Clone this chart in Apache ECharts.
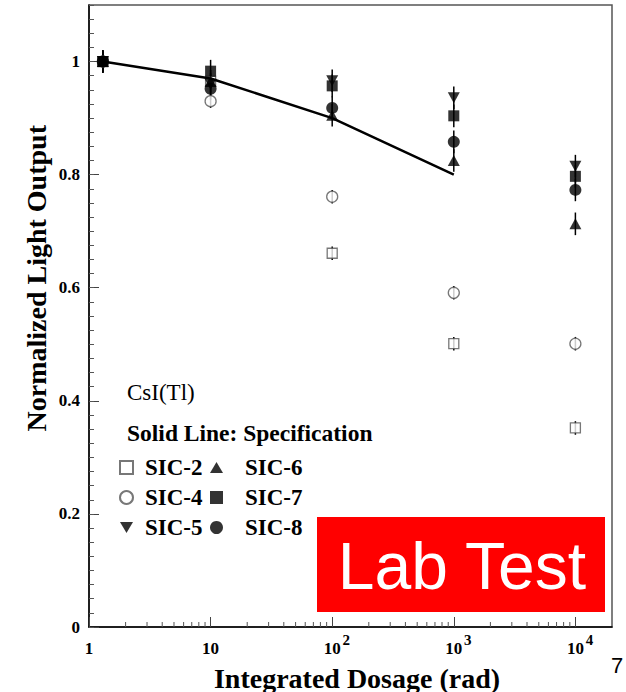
<!DOCTYPE html>
<html>
<head>
<meta charset="utf-8">
<script src="https://cdn.jsdelivr.net/npm/echarts@6/dist/echarts.min.js"></script>
<style>
  html, body { margin: 0; padding: 0; background: #fff; }
  #chart { width: 626px; height: 692px; }
</style>
</head>
<body>
<div id="chart"></div>
<script>
// dose points (rad)
var doses = [1.3, 10, 100, 1000, 10000];

// normalized light output per crystal
var sic2 = [1.0, 0.965, 0.661, 0.501, 0.352];
var sic4 = [1.0, 0.930, 0.761, 0.591, 0.501];
var sic5 = [1.0, 0.960, 0.966, 0.936, 0.815];
var sic6 = [1.0, 0.965, 0.905, 0.825, 0.713];
var sic7 = [1.0, 0.983, 0.957, 0.904, 0.797];
var sic8 = [1.0, 0.952, 0.918, 0.858, 0.773];

// error sizes
var errFilled = 0.02;
var errOpen = 0.012;

// specification line
var specDoses = [1.3, 10, 100, 1000];
var specValues = [1.0, 0.97, 0.90, 0.80];

// tick labels for the log axis (by exponent): base part and superscript part
var xTickBase = ['1', '10', '10', '10', '10'];
var xTickExp = ['', '', '2', '3', '4'];
var yTickStep = 0.2;

var serif = '"Liberation Serif", "DejaVu Serif", serif';
var sans = '"Liberation Sans", Arial, sans-serif';

var myChart = echarts.init(document.getElementById('chart'), null, {renderer: 'svg'});

function pairs(xs, ys) {
    return xs.map(function (x, i) { return [x, ys[i]]; });
}

function expOf(v) {
    return Math.round(Math.log10(v));
}

// minor ticks 2..9 for every decade
var xMinor = [];
[1, 10, 100, 1000, 10000].forEach(function (d) {
    for (var m = 2; m <= 9; m++) {
        if (d * m < 20000) xMinor.push([d * m, 0]);
    }
});

// error bars: [x, y, err]
var errData = [];
[[sic2, errOpen], [sic4, errOpen], [sic5, errFilled], [sic6, errFilled], [sic7, errFilled], [sic8, errFilled]].forEach(function (s) {
    s[0].forEach(function (v, i) { errData.push([doses[i], v, s[1]]); });
});

var squareSym = 'path://M0,0L10,0L10,10L0,10Z';
var upTri = 'path://M10,0L20,17L0,17Z';
var downTri = 'path://M0,0L20,0L10,17Z';

function openStyle() {
    return { color: '#fff', borderColor: '#555', borderWidth: 1.3 };
}

function legendText(gap) {
    return { fontFamily: serif, fontWeight: 'bold', fontSize: 23, color: '#000', lineHeight: 22, padding: [0, 0, 0, gap] };
}

var option = {
    animation: false,
    backgroundColor: '#fff',
    grid: {
        left: 89,
        right: 14,
        top: 5,
        bottom: 65,
        show: true,
        borderColor: '#555',
        borderWidth: 1.5,
        backgroundColor: 'transparent'
    },
    xAxis: [{
        type: 'log',
        logBase: 10,
        min: 1,
        max: 20000,
        splitNumber: 4,
        axisLine: { lineStyle: { color: '#000', width: 1.5 } },
        axisTick: { inside: true, length: 10, lineStyle: { color: '#444' } },
        splitLine: { show: false },
        axisLabel: {
            showMaxLabel: false,
            margin: 13,
            color: '#000',
            fontFamily: serif,
            fontWeight: 'bold',
            fontSize: 17,
            formatter: function (v) { return xTickBase[expOf(v)] || ''; }
        }
    }, {
        // superscripts of the decade labels
        type: 'log',
        logBase: 10,
        min: 1,
        max: 20000,
        splitNumber: 4,
        position: 'bottom',
        axisLine: { show: false },
        axisTick: { show: false },
        splitLine: { show: false },
        axisLabel: {
            showMaxLabel: false,
            margin: 5,
            color: '#000',
            fontFamily: serif,
            fontWeight: 'bold',
            fontSize: 15,
            padding: [0, 0, 0, 28],
            formatter: function (v) { return xTickExp[expOf(v)] || ''; }
        }
    }],
    yAxis: [{
        type: 'value',
        min: 0,
        max: 1.1,
        interval: yTickStep,
        axisLine: { show: true, lineStyle: { color: '#000', width: 1.5 } },
        axisTick: { inside: true, length: 10, lineStyle: { color: '#444' } },
        splitLine: { show: false },
        axisLabel: {
            showMaxLabel: false,
            margin: 9,
            color: '#000',
            fontFamily: serif,
            fontWeight: 'bold',
            fontSize: 17
        }
    }, {
        type: 'value',
        position: 'left',
        min: 0,
        max: 1.1,
        interval: 0.025,
        axisLine: { show: false },
        axisTick: { show: true, inside: true, length: 5, lineStyle: { color: '#555' } },
        axisLabel: { show: false },
        splitLine: { show: false }
    }],
    legend: [{
        left: 114,
        top: 451,
        orient: 'vertical',
        selectedMode: false,
        itemWidth: 13,
        itemHeight: 13,
        itemGap: 7,
        textStyle: legendText(7),
        data: ['SIC-2', 'SIC-4', 'SIC-5']
    }, {
        left: 205,
        top: 451,
        orient: 'vertical',
        selectedMode: false,
        itemWidth: 13,
        itemHeight: 13,
        itemGap: 7,
        textStyle: legendText(17),
        data: ['SIC-6', 'SIC-7', 'SIC-8']
    }],
    graphic: [
        { type: 'text', left: 127, top: 381, style: { text: 'CsI(Tl)', font: '23px ' + serif, fill: '#000' } },
        { type: 'text', left: 127, top: 421, style: { text: 'Solid Line: Specification', font: 'bold 23.5px ' + serif, fill: '#000' } },
        { type: 'text', x: 36, y: 125, rotation: Math.PI / 2,
          style: { text: 'Normalized Light Output', font: 'bold 28px ' + serif, fill: '#000', align: 'right', verticalAlign: 'middle' } },
        { type: 'text', x: 357, y: 678,
          style: { text: 'Integrated Dosage (rad)', font: 'bold 28px ' + serif, fill: '#000', align: 'center', verticalAlign: 'middle' } },
        { type: 'rect', shape: { x: 317, y: 517, width: 288, height: 95 }, style: { fill: '#ff0000' }, z: 100 },
        { type: 'text', x: 462, y: 566, z: 101,
          style: { text: 'Lab Test', font: '66px ' + sans, fill: '#fff', align: 'center', verticalAlign: 'middle' } },
        { type: 'text', x: 617, y: 665,
          style: { text: '7', font: '22px ' + sans, fill: '#000', align: 'center', verticalAlign: 'middle' } }
    ],
    series: [
        {
            type: 'custom',
            name: 'xminor',
            silent: true,
            data: xMinor,
            z: 1,
            renderItem: function (params, api) {
                var p = api.coord([api.value(0), 0]);
                return { type: 'line', shape: { x1: p[0], y1: p[1], x2: p[0], y2: p[1] - 5 },
                         style: { stroke: '#555', lineWidth: 1 } };
            }
        },
        {
            type: 'custom',
            name: 'errors',
            silent: true,
            data: errData,
            z: 2,
            renderItem: function (params, api) {
                var top = api.coord([api.value(0), api.value(1) + api.value(2)]);
                var bot = api.coord([api.value(0), api.value(1) - api.value(2)]);
                return { type: 'line', shape: { x1: top[0], y1: top[1], x2: bot[0], y2: bot[1] },
                         style: { stroke: '#000', lineWidth: 1.5 } };
            }
        },
        { name: 'SIC-2', type: 'scatter', z: 3, symbol: squareSym, symbolSize: 10, itemStyle: openStyle(), data: pairs(doses, sic2) },
        { name: 'SIC-4', type: 'scatter', z: 3, symbol: 'circle', symbolSize: 11, itemStyle: openStyle(), data: pairs(doses, sic4) },
        { name: 'SIC-6', type: 'scatter', z: 4, symbol: upTri, symbolSize: [12, 11], itemStyle: { color: '#000' }, data: pairs(doses, sic6) },
        { name: 'SIC-5', type: 'scatter', z: 4, symbol: downTri, symbolSize: [12, 11], itemStyle: { color: '#000' }, data: pairs(doses, sic5) },
        { name: 'SIC-8', type: 'scatter', z: 4, symbol: 'circle', symbolSize: 12, itemStyle: { color: '#000' }, data: pairs(doses, sic8) },
        { name: 'SIC-7', type: 'scatter', z: 4, symbol: squareSym, symbolSize: 11, itemStyle: { color: '#000' }, data: pairs(doses, sic7) },
        {
            name: 'Specification',
            type: 'line',
            z: 5,
            symbol: 'none',
            silent: true,
            lineStyle: { color: '#000', width: 2.5 },
            data: pairs(specDoses, specValues)
        }
    ]
};

myChart.setOption(option);
</script>
</body>
</html>
